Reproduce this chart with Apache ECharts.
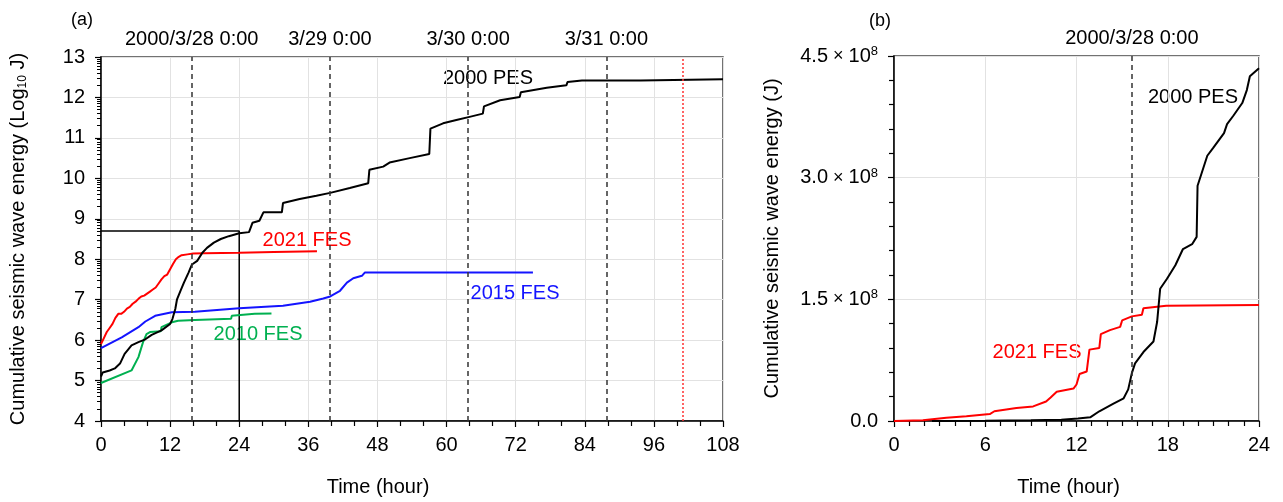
<!DOCTYPE html>
<html>
<head>
<meta charset="utf-8">
<script src="https://cdn.jsdelivr.net/npm/echarts@6/dist/echarts.min.js"></script>
<style>
  html, body { margin: 0; background: #fff; }
  #chart { width: 1283px; height: 502px; }
</style>
</head>
<body>
<div id="chart"></div>
<script>
// (a) cumulative energy, [hour, log10 J]
const pes2000Log = [[0,5.1],[0.3,5.2],[1.5,5.25],[2.4,5.3],[3.3,5.42],[4.1,5.66],[5.3,5.87],[6.5,5.95],[7.7,6.02],[8.8,6.13],[10.5,6.24],[12.0,6.4],[12.4,6.52],[12.9,6.77],[13.2,7.01],[13.8,7.22],[14.4,7.42],[15.2,7.67],[15.8,7.87],[16.7,7.96],[17.6,8.16],[18.4,8.28],[19.6,8.41],[20.8,8.5],[22.2,8.57],[24,8.64],[25.7,8.67],[26.3,8.9],[27.5,8.95],[28.2,9.16],[31.4,9.16],[31.6,9.39],[34.5,9.49],[37.4,9.57],[39.8,9.64],[43.2,9.76],[46.4,9.88],[46.6,10.21],[49,10.29],[50.1,10.39],[53.6,10.5],[57,10.6],[57.2,11.23],[59.4,11.36],[61.7,11.44],[64,11.52],[66.3,11.6],[66.5,11.78],[69.3,11.93],[72.7,12.01],[72.9,12.13],[77.4,12.24],[80.8,12.3],[81,12.38],[83.5,12.42],[93.7,12.42],[94,12.45],[108,12.45]];
const fes2021Log = [[0,5.9],[0.5,6.05],[1,6.2],[1.5,6.3],[2,6.4],[2.5,6.55],[3,6.65],[3.5,6.65],[4,6.7],[4.5,6.78],[5,6.82],[5.5,6.9],[6,6.95],[6.5,7.02],[7,7.08],[7.5,7.1],[8,7.15],[8.5,7.2],[9,7.25],[9.5,7.3],[10,7.4],[10.5,7.5],[11,7.58],[11.5,7.62],[12,7.75],[12.5,7.88],[13,8.0],[13.5,8.06],[14,8.1],[15,8.12],[16,8.14],[18,8.15],[24,8.16],[30,8.18],[37.5,8.2]];
const fes2015Log = [[0,5.8],[3.6,6.07],[6.5,6.32],[7.7,6.46],[9.4,6.6],[12.3,6.69],[16.3,6.7],[24,6.79],[31.6,6.85],[36.3,6.95],[38.6,7.03],[39.8,7.08],[41.5,7.22],[42.7,7.42],[43.8,7.53],[45.3,7.59],[45.8,7.67],[75,7.67]];
const fes2010Log = [[0,4.94],[5.3,5.25],[6.5,5.58],[7.3,5.95],[7.9,6.15],[8.5,6.2],[10.4,6.22],[10.5,6.32],[12.3,6.44],[13.4,6.48],[16.3,6.5],[22.6,6.53],[22.7,6.6],[26.7,6.65],[29.6,6.66]];

// (b) cumulative energy, [hour, J]
const pes2000Lin = [[2.5,0],[6,0.003e8],[9,0.008e8],[11,0.015e8],[12.1,0.03e8],[12.9,0.045e8],[13.5,0.12e8],[14.4,0.21e8],[15.1,0.28e8],[15.4,0.39e8],[15.64,0.59e8],[15.85,0.71e8],[16.4,0.85e8],[17.06,0.98e8],[17.3,1.22e8],[17.5,1.63e8],[17.94,1.75e8],[18.5,1.92e8],[19.0,2.12e8],[19.6,2.18e8],[19.9,2.27e8],[19.96,2.9e8],[20.6,3.27e8],[21.0,3.37e8],[21.7,3.55e8],[21.9,3.66e8],[22.3,3.76e8],[22.9,3.92e8],[23.2,4.08e8],[23.4,4.25e8],[24,4.35e8]];
const fes2021Lin = [[0,0],[1.9,0.01e8],[3.44,0.04e8],[4.76,0.06e8],[6.3,0.085e8],[6.6,0.12e8],[8.05,0.16e8],[9.15,0.18e8],[10.0,0.24e8],[10.3,0.29e8],[10.7,0.36e8],[11.8,0.4e8],[12.0,0.45e8],[12.2,0.58e8],[12.67,0.61e8],[12.85,0.88e8],[13.5,0.9e8],[13.6,1.07e8],[14.2,1.12e8],[14.87,1.16e8],[15.0,1.24e8],[15.64,1.29e8],[16.3,1.31e8],[16.4,1.39e8],[17.9,1.42e8],[24,1.43e8]];

// reference lines
const dayLinesA = [15.75, 39.75, 63.75, 87.75];
const dayLabelsA = ['2000/3/28 0:00', '3/29 0:00', '3/30 0:00', '3/31 0:00'];
const redLineA = 101;
const dayLineB = 15.64;
const dayLabelB = '2000/3/28 0:00';
const boxLine = [[0, 8.7], [24, 8.7], [24, 4]];

// log-style minor ticks for the log10 axis
const logMinorTicks = [];
for (let n = 4; n < 13; n++) {
  for (let k = 2; k <= 9; k++) logMinorTicks.push(n + Math.log10(k));
}

const FONT = 'Liberation Sans, Arial, sans-serif';
const chart = echarts.init(document.getElementById('chart'));

const axisBase = {
  axisLine: { lineStyle: { color: '#000', width: 1.5 } },
  axisTick: { length: 6, lineStyle: { color: '#000', width: 1.2 } },
  axisLabel: { fontSize: 20, color: '#000', fontFamily: FONT },
  splitLine: { show: true, lineStyle: { color: '#e2e2e2', width: 1 } }
};

const dashStyle = { color: '#333', type: [5, 4], width: 1.5 };

const option = {
  animation: false,
  textStyle: { fontFamily: FONT },
  grid: [
    { left: 101, top: 57, width: 622, height: 366, show: true, borderColor: '#444', borderWidth: 1.5 },
    { left: 894, top: 56, width: 365, height: 367, show: true, borderColor: '#444', borderWidth: 1.5 }
  ],
  xAxis: [
    Object.assign({}, axisBase, {
      gridIndex: 0, type: 'value', min: 0, max: 108, interval: 12,
      minorTick: { show: true, splitNumber: 3, length: 5, lineStyle: { color: '#000', width: 1.2 } },
      axisLabel: { fontSize: 20, color: '#000', fontFamily: FONT, margin: 14 },
      name: 'Time (hour)', nameLocation: 'middle', nameGap: 56,
      nameTextStyle: { fontSize: 20, color: '#000', padding: [0, 68, 0, 0] }
    }),
    Object.assign({}, axisBase, {
      gridIndex: 1, type: 'value', min: 0, max: 24, interval: 6,
      minorTick: { show: true, splitNumber: 6, length: 5, lineStyle: { color: '#000', width: 1.2 } },
      axisLabel: { fontSize: 20, color: '#000', fontFamily: FONT, margin: 14 },
      name: 'Time (hour)', nameLocation: 'middle', nameGap: 56,
      nameTextStyle: { fontSize: 20, color: '#000', padding: [0, 16, 0, 0] }
    })
  ],
  yAxis: [
    Object.assign({}, axisBase, {
      gridIndex: 0, type: 'value', min: 4, max: 13, interval: 1,
      axisLabel: { fontSize: 20, color: '#000', fontFamily: FONT, margin: 16 },
      name: '{n|Cumulative seismic wave energy (Log}{s|10}{n| J)}',
      nameLocation: 'middle', nameGap: 72,
      nameTextStyle: {
        rich: {
          n: { fontSize: 20, color: '#000', fontFamily: FONT, lineHeight: 22 },
          s: { fontSize: 12, color: '#000', fontFamily: FONT, lineHeight: 12, verticalAlign: 'bottom' }
        }
      }
    }),
    {
      gridIndex: 0, type: 'value', min: 4, max: 13, position: 'left',
      axisLine: { show: false }, axisLabel: { show: false }, splitLine: { show: false },
      axisTick: { show: true, customValues: logMinorTicks, length: 4, lineStyle: { color: '#000', width: 1 } }
    },
    Object.assign({}, axisBase, {
      gridIndex: 1, type: 'value', min: 0, max: 4.5e8, interval: 1.5e8,
      minorTick: { show: true, splitNumber: 5, length: 5, lineStyle: { color: '#000', width: 1.2 } },
      axisLabel: {
        margin: 16,
        formatter: v => v === 0 ? '{m|0.0}' : '{m|' + (v / 1e8).toFixed(1) + '}{x| × }{m|10}{s|8}',
        rich: {
          m: { fontSize: 20, color: '#000', fontFamily: FONT, lineHeight: 22 },
          x: { fontSize: 18, color: '#000', fontFamily: FONT, lineHeight: 22 },
          s: { fontSize: 13, color: '#000', fontFamily: FONT, lineHeight: 13, verticalAlign: 'top' }
        }
      },
      name: 'Cumulative seismic wave energy (J)', nameLocation: 'middle', nameGap: 112,
      nameTextStyle: { fontSize: 20, color: '#000' }
    })
  ],
  series: [
    {
      name: 'boxLine', type: 'line', xAxisIndex: 0, yAxisIndex: 0, data: boxLine,
      symbol: 'none', lineStyle: { color: '#000', width: 1.5 }, z: 1,
      markLine: {
        silent: true, symbol: ['none', 'none'],
        lineStyle: dashStyle,
        label: { show: true, position: 'end', formatter: '{b}', fontSize: 20, color: '#000', fontFamily: FONT, distance: 8 },
        data: dayLinesA.map((x, i) => ({ xAxis: x, name: dayLabelsA[i] })).concat([
          { xAxis: redLineA, name: '', label: { show: false }, lineStyle: { color: '#ff3030', type: [2, 2], width: 1.5 } }
        ])
      }
    },
    { name: '2010 FES', type: 'line', xAxisIndex: 0, yAxisIndex: 0, data: fes2010Log, symbol: 'none', lineStyle: { color: '#00b050', width: 2 } },
    { name: '2015 FES', type: 'line', xAxisIndex: 0, yAxisIndex: 0, data: fes2015Log, symbol: 'none', lineStyle: { color: '#1414ff', width: 2 } },
    { name: '2021 FES', type: 'line', xAxisIndex: 0, yAxisIndex: 0, data: fes2021Log, symbol: 'none', lineStyle: { color: '#ff0000', width: 2 } },
    { name: '2000 PES', type: 'line', xAxisIndex: 0, yAxisIndex: 0, data: pes2000Log, symbol: 'none', lineStyle: { color: '#000', width: 2 } },
    {
      name: '2021 FES b', type: 'line', xAxisIndex: 1, yAxisIndex: 2, data: fes2021Lin,
      symbol: 'none', lineStyle: { color: '#ff0000', width: 2 },
      markLine: {
        silent: true, symbol: ['none', 'none'],
        lineStyle: dashStyle,
        label: { show: true, position: 'end', formatter: '{b}', fontSize: 20, color: '#000', fontFamily: FONT, distance: 8 },
        data: [{ xAxis: dayLineB, name: dayLabelB }]
      }
    },
    { name: '2000 PES b', type: 'line', xAxisIndex: 1, yAxisIndex: 2, data: pes2000Lin, symbol: 'none', lineStyle: { color: '#000', width: 2 } }
  ],
  graphic: [
    { type: 'text', x: 82, y: 20, style: { text: '(a)', font: '18px ' + FONT, fill: '#000', align: 'center', verticalAlign: 'middle' } },
    { type: 'text', x: 880, y: 21, style: { text: '(b)', font: '18px ' + FONT, fill: '#000', align: 'center', verticalAlign: 'middle' } },
    { type: 'text', x: 488, y: 78, style: { text: '2000 PES', font: '20px ' + FONT, fill: '#000', align: 'center', verticalAlign: 'middle' } },
    { type: 'text', x: 307, y: 240, style: { text: '2021 FES', font: '20px ' + FONT, fill: '#ff0000', align: 'center', verticalAlign: 'middle' } },
    { type: 'text', x: 515, y: 293, style: { text: '2015 FES', font: '20px ' + FONT, fill: '#1414ff', align: 'center', verticalAlign: 'middle' } },
    { type: 'text', x: 258, y: 334, style: { text: '2010 FES', font: '20px ' + FONT, fill: '#00b050', align: 'center', verticalAlign: 'middle' } },
    { type: 'text', x: 1193, y: 97, style: { text: '2000 PES', font: '20px ' + FONT, fill: '#000', align: 'center', verticalAlign: 'middle' } },
    { type: 'text', x: 1037, y: 352, style: { text: '2021 FES', font: '20px ' + FONT, fill: '#ff0000', align: 'center', verticalAlign: 'middle' } }
  ]
};

chart.setOption(option);
</script>
</body>
</html>
